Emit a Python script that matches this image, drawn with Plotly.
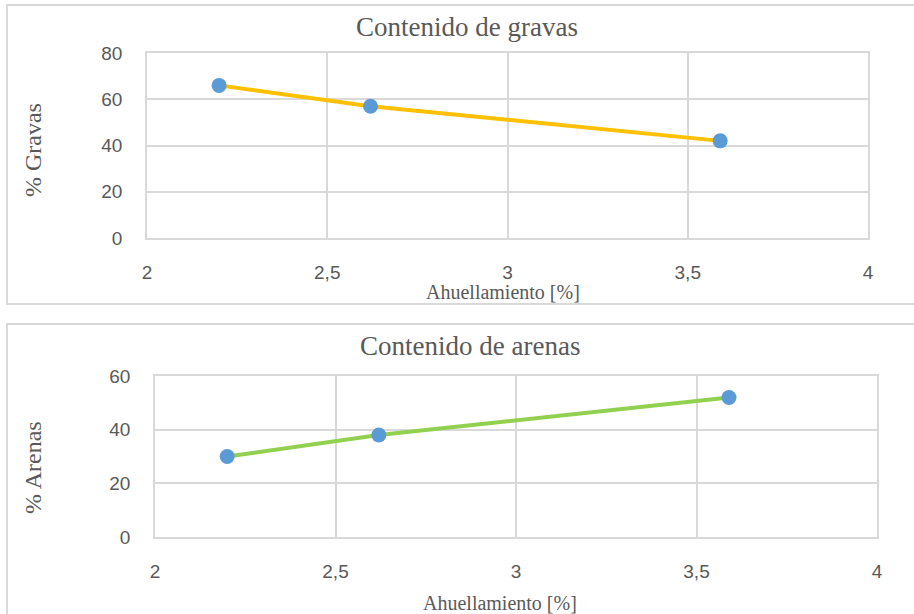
import plotly.graph_objects as go

# Datos de ensayo: ahuellamiento vs contenido granulométrico
ahuellamiento = [2.2, 2.62, 3.59]
gravas = [66, 57, 42]
arenas = [30, 38, 52]

x_ticks = [2, 2.5, 3, 3.5, 4]
y_ticks_gravas = [0, 20, 40, 60, 80]
y_ticks_arenas = [0, 20, 40, 60]

W, H = 914, 614

def px_x(v):
    return v / W

def px_y(v):
    return 1 - v / H

GRID = "#d9d9d9"
TICK_FONT = dict(family="Liberation Sans, Arial, sans-serif", size=19, color="#595959")
SERIF = "Liberation Serif, Times New Roman, serif"
MARKER = dict(color="#5B9BD5", size=15)

fig = go.Figure()

fig.add_trace(go.Scatter(
    x=ahuellamiento, y=gravas, mode="lines+markers",
    line=dict(color="#FFC000", width=4), marker=MARKER,
    xaxis="x", yaxis="y", showlegend=False,
))
fig.add_trace(go.Scatter(
    x=ahuellamiento, y=arenas, mode="lines+markers",
    line=dict(color="#92D050", width=4), marker=MARKER,
    xaxis="x2", yaxis="y2", showlegend=False,
))

axis_common = dict(
    showgrid=True, gridcolor=GRID, gridwidth=1.5,
    showline=True, linecolor=GRID, linewidth=1.5, mirror=True,
    zeroline=False, ticks="", tickfont=TICK_FONT, fixedrange=True,
    automargin=False,
)

fig.update_layout(
    width=W, height=H,
    margin=dict(l=0, r=0, t=0, b=0),
    paper_bgcolor="white", plot_bgcolor="white",
    separators=",.",
    xaxis=dict(domain=[px_x(147), px_x(868)], range=[2, 4], tickvals=x_ticks,
               anchor="y", ticklabelstandoff=16, **axis_common),
    yaxis=dict(domain=[px_y(238), px_y(53)], range=[0, 80], tickvals=y_ticks_gravas,
               anchor="x", ticklabelstandoff=19, **axis_common),
    xaxis2=dict(domain=[px_x(155), px_x(877)], range=[2, 4], tickvals=x_ticks,
                anchor="y2", ticklabelstandoff=16, **axis_common),
    yaxis2=dict(domain=[px_y(537), px_y(376)], range=[0, 60], tickvals=y_ticks_arenas,
                anchor="x2", ticklabelstandoff=19, **axis_common),
)

# Marcos de cada gráfico
fig.add_shape(type="rect", xref="paper", yref="paper",
              x0=px_x(7), x1=px_x(918), y0=px_y(304), y1=px_y(5),
              line=dict(color=GRID, width=2), fillcolor="rgba(0,0,0,0)", layer="below")
fig.add_shape(type="rect", xref="paper", yref="paper",
              x0=px_x(7), x1=px_x(918), y0=px_y(620), y1=px_y(324),
              line=dict(color=GRID, width=2), fillcolor="rgba(0,0,0,0)", layer="below")

def text(x, y, s, size, angle=0):
    fig.add_annotation(xref="paper", yref="paper", x=px_x(x), y=px_y(y), text=s,
                       showarrow=False, xanchor="center", yanchor="middle",
                       textangle=angle, font=dict(family=SERIF, size=size, color="#595959"))

text(467, 27, "Contenido de gravas", 27)
text(503, 292, "Ahuellamiento [%]", 20)
text(33, 150, "% Gravas", 24, -90)

text(470, 346, "Contenido de arenas", 27)
text(500, 603, "Ahuellamiento [%]", 20)
text(33, 468, "% Arenas", 24, -90)

fig.write_html("out.html")
